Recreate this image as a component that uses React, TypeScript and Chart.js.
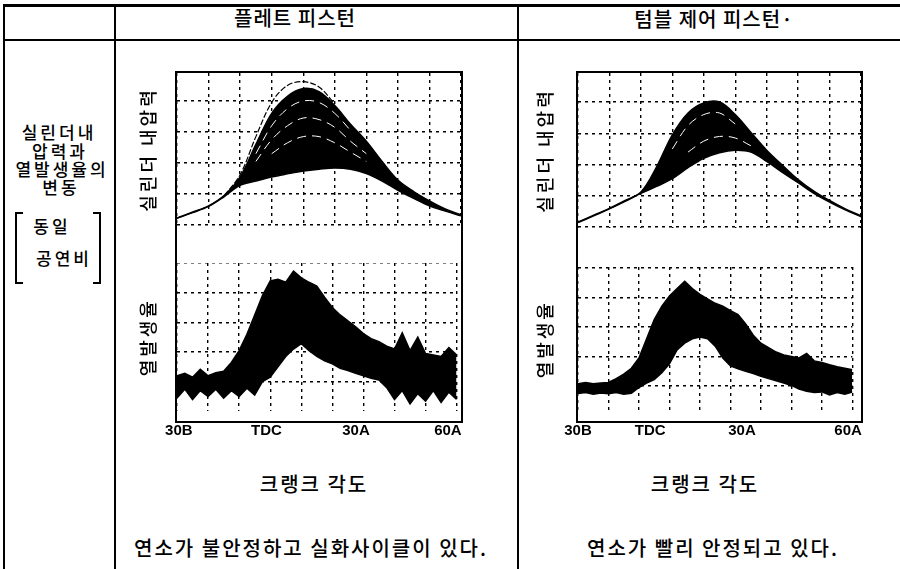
import React, { useEffect, useRef } from "react";
import { Chart, registerables } from "chart.js";

Chart.register(...registerables);

// ---------- data ----------
// crank angle axis: 30B (-30) .. 60A (+60), grid every 10 degrees
const gridAngles = [-30, -20, -10, 0, 10, 20, 30, 40, 50, 60];
const tickLabels = ["30B", "TDC", "30A", "60A"];
// where the labels sit under each panel in the picture (deg)
const leftLabelAngles = [-29.4, -1.2, 27.6, 57.2];
const rightLabelAngles = [-30, -6.3, 23.8, 58.6];

const pressureAngles = [-30, -25, -20, -15, -10, -5, 0, 5, 10, 15, 20, 25, 30, 35, 40, 45, 50, 55, 60];
const heatAngles = [
  -30, -27.5, -25, -22.5, -20, -17.5, -15, -12.5, -10, -7.5, -5, -2.5, 0, 2.5, 5, 7.5, 10, 12.5, 15,
  17.5, 20, 22.5, 25, 27.5, 30, 32.5, 35, 37.5, 40, 42.5, 45, 47.5, 50, 52.5, 55, 57.5, 60,
];

// flat piston: cylinder pressure envelope of all cycles
const flatPressureLow = [0.22, 0.4, 0.6, 0.92, 1.28, 1.42, 1.55, 1.65, 1.74, 1.8, 1.84, 1.8, 1.66, 1.42, 1.12, 0.86, 0.62, 0.45, 0.3];
const flatPressureHigh = [0.23, 0.42, 0.62, 0.96, 1.55, 2.6, 3.6, 4.15, 4.4, 4.3, 3.85, 3.25, 2.7, 2.05, 1.45, 1.08, 0.78, 0.52, 0.33];
const flatPressurePeakAngles = [-15, -10, -5, 0, 5, 10, 15, 20];
const flatPressurePeakCycle = [0.95, 1.62, 2.85, 3.95, 4.5, 4.62, 4.45, 3.9];
// visible gaps between individual cycles inside the band
const flatGapAAngles = [-5, 0, 5, 10, 15, 20, 25];
const flatGapA = [2.3, 3.2, 3.75, 4.0, 3.95, 3.6, 3.05];
const flatGapBAngles = [-5, 0, 5, 10, 15, 20, 25, 30];
const flatGapB = [2.05, 2.75, 3.2, 3.45, 3.4, 3.15, 2.7, 2.3];
const flatGapCAngles = [0, 5, 10, 15, 20, 25, 30];
const flatGapC = [2.3, 2.65, 2.85, 2.85, 2.65, 2.35, 2.05];

// flat piston: heat release rate envelope
const flatHeatHigh = [
  0.2, 0.28, 0.15, 0.42, 0.2, 0.3, 0.35, 0.65, 1.05, 1.6, 2.25, 2.9, 3.4, 3.45, 3.35, 3.73, 3.5, 3.35, 3.22,
  2.85, 2.5, 2.25, 2.05, 1.85, 1.62, 1.45, 1.35, 1.2, 1.1, 1.65, 1.05, 1.5, 0.95, 0.9, 0.85, 1.15, 0.9,
];
const flatHeatLow = [
  -0.55, -0.25, -0.6, -0.3, -0.5, -0.25, -0.55, -0.3, -0.5, -0.22, -0.45, 0.0, 0.15, 0.5, 0.85, 1.1, 1.28, 1.05, 0.85,
  0.7, 0.6, 0.45, 0.38, 0.28, 0.2, 0.12, 0.06, -0.2, -0.6, -0.3, -0.75, -0.4, -0.65, -0.3, -0.7, -0.35, -0.6,
];

// tumble control piston: cylinder pressure envelope
const tumblePressureLow = [0.14, 0.36, 0.58, 0.82, 1.08, 1.3, 1.55, 1.9, 2.2, 2.38, 2.46, 2.4, 2.1, 1.75, 1.42, 1.08, 0.8, 0.55, 0.33];
const tumblePressureHigh = [0.16, 0.38, 0.6, 0.85, 1.12, 1.93, 2.95, 3.65, 3.97, 4.0, 3.6, 3.03, 2.46, 1.98, 1.52, 1.15, 0.85, 0.58, 0.36];
const tumbleGapAAngles = [0, 5, 10, 15, 20];
const tumbleGapA = [2.5, 3.25, 3.6, 3.65, 3.3];
const tumbleGapBAngles = [5, 10, 15, 20, 25];
const tumbleGapB = [2.4, 2.75, 2.9, 2.85, 2.6];

// tumble control piston: heat release rate envelope
const tumbleHeatHigh = [
  0.08, 0.12, 0.08, 0.1, 0.12, 0.25, 0.4, 0.6, 0.95, 1.6, 2.25, 2.7, 3.05, 3.3, 3.55, 3.3, 3.1, 2.95, 2.8,
  2.7, 2.55, 2.42, 2.1, 1.72, 1.45, 1.3, 1.15, 1.05, 1.0, 0.95, 1.1, 0.85, 0.8, 0.72, 0.65, 0.6, 0.55,
];
const tumbleHeatLow = [
  -0.25, -0.22, -0.28, -0.24, -0.26, -0.22, -0.28, -0.25, -0.05, 0.1, 0.22, 0.45, 0.75, 1.22, 1.45, 1.6, 1.66, 1.6, 1.35,
  0.95, 0.68, 0.58, 0.5, 0.42, 0.33, 0.25, 0.18, 0.1, 0.02, -0.1, -0.18, -0.22, -0.2, -0.3, -0.22, -0.28, -0.2,
];

const pressureGridValues = [0, 1, 2, 3, 4];
const heatGridValues = [0, 1, 2, 3, 4];

// ---------- chart ----------
const KR = "'Noto Sans CJK KR', 'Noto Sans', sans-serif";

function pts(xs: number[], ys: number[]) {
  return xs.map((x, i) => ({ x, y: ys[i] }));
}

const spacingPlugin = {
  id: "titleSpacing",
  beforeDraw(chart: any) {
    chart.ctx.letterSpacing = "3px";
  },
  afterDatasetsDraw(chart: any) {
    chart.ctx.letterSpacing = "0px";
  },
};

type Extra = { xs: number[]; ys: number[]; gap: boolean };

type TraceProps = {
  left: number;
  top: number;
  width: number;
  height: number;
  yMin: number;
  yMax: number;
  yGrid: number[];
  title: string;
  titleGap: number;
  xs: number[];
  low: number[];
  high: number[];
  smooth: boolean;
  extras?: Extra[];
  labelAngles?: number[];
};

function TraceChart(p: TraceProps) {
  const ref = useRef<HTMLCanvasElement>(null);
  useEffect(() => {
    const canvas = ref.current;
    if (!canvas) return;
    const tension = p.smooth ? 0.35 : 0;
    const datasets: any[] = [
      {
        data: pts(p.xs, p.low),
        borderColor: "#000",
        borderWidth: 1.5,
        pointRadius: 0,
        fill: false,
        tension,
        order: 5,
      },
      {
        data: pts(p.xs, p.high),
        borderColor: "#000",
        borderWidth: 1.5,
        pointRadius: 0,
        fill: "-1",
        backgroundColor: "#000",
        tension,
        order: 5,
      },
    ];
    (p.extras || []).forEach((e) => {
      datasets.push({
        data: pts(e.xs, e.ys),
        borderColor: e.gap ? "#fff" : "#000",
        borderWidth: e.gap ? 1 : 1.2,
        borderDash: e.gap ? [9, 6] : [6, 2],
        pointRadius: 0,
        fill: false,
        tension,
        order: 0,
      });
    });
    const gridStyle = { color: "#000", lineWidth: 1.4, drawTicks: false };
    const scales: any = {
      x: {
        type: "linear",
        min: -30,
        max: 60,
        afterBuildTicks: (s: any) => {
          s.ticks = gridAngles.map((v) => ({ value: v }));
        },
        ticks: { display: false },
        grid: gridStyle,
        border: { display: false, dash: [3, 4] },
      },
      y: {
        type: "linear",
        min: p.yMin,
        max: p.yMax,
        afterBuildTicks: (s: any) => {
          s.ticks = p.yGrid.map((v) => ({ value: v }));
        },
        ticks: { display: false },
        grid: gridStyle,
        border: { display: false, dash: [3, 4] },
        title: {
          display: true,
          text: p.title,
          color: "#000",
          font: { family: KR, size: 18, weight: "500" },
          padding: { top: 0, bottom: p.titleGap },
        },
      },
    };
    if (p.labelAngles) {
      const la = p.labelAngles;
      scales.xl = {
        type: "linear",
        position: "bottom",
        min: -30,
        max: 60,
        afterBuildTicks: (s: any) => {
          s.ticks = la.map((v) => ({ value: v }));
        },
        ticks: {
          autoSkip: false,
          maxRotation: 0,
          minRotation: 0,
          padding: 10.8,
          color: "#000",
          font: { family: "'Liberation Sans Narrow', 'Liberation Sans', Arial, sans-serif", size: 15, weight: "bold" },
          callback: (_v: any, i: number) => tickLabels[i],
          z: 1,
        },
        grid: { display: false, drawTicks: false },
        border: { display: false },
      };
    }
    const chart = new Chart(canvas, {
      type: "line",
      data: { datasets },
      options: {
        animation: false,
        responsive: false,
        maintainAspectRatio: false,
        layout: { padding: { left: 0, top: 0, bottom: 0, right: 12 } },
        plugins: { legend: { display: false }, tooltip: { enabled: false } },
        scales,
      },
      plugins: [spacingPlugin],
    } as any);
    return () => chart.destroy();
  }, []);
  return (
    <canvas
      ref={ref}
      width={p.width}
      height={p.height}
      style={{ position: "absolute", left: p.left, top: p.top, width: p.width, height: p.height }}
    />
  );
}

// ---------- layout helpers ----------
function HLine({ x1, x2, y, w = 2 }: { x1: number; x2: number; y: number; w?: number }) {
  return <div style={{ position: "absolute", left: x1, top: y, width: x2 - x1, height: w, background: "#000" }} />;
}
function VLine({ y1, y2, x, w = 2 }: { y1: number; y2: number; x: number; w?: number }) {
  return <div style={{ position: "absolute", left: x, top: y1, width: w, height: y2 - y1, background: "#000" }} />;
}
function Label({ cx, cy, text, size = 20, spacing = 2 }: { cx: number; cy: number; text: string; size?: number; spacing?: number }) {
  return (
    <div
      style={{
        position: "absolute",
        left: cx,
        top: cy,
        transform: "translate(-50%, -50%)",
        whiteSpace: "nowrap",
        fontSize: size,
        fontWeight: 500,
        lineHeight: 1,
        letterSpacing: spacing,
        fontFamily: KR,
        color: "#000",
      }}
    >
      {text}
    </div>
  );
}

export default function App() {
  return (
    <div
      style={{
        position: "absolute",
        left: 0,
        top: 0,
        width: 900,
        height: 569,
        background: "#fff",
        overflow: "hidden",
      }}
    >
      {/* table frame */}
      <HLine x1={3} x2={900} y={4} w={3} />
      <HLine x1={3} x2={900} y={39} w={2} />
      <VLine x={3} y1={4} y2={569} />
      <VLine x={114} y1={4} y2={569} />
      <VLine x={517} y1={4} y2={569} />

      {/* headers */}
      <Label cx={295} cy={18} text="플레트 피스턴" size={20} spacing={1} />
      <Label cx={714} cy={19} text="텀블 제어 피스턴·" size={20} spacing={1} />

      {/* row heading */}
      <Label cx={59} cy={131} text="실린더내" size={17} spacing={3} />
      <Label cx={60} cy={149.5} text="압력과" size={17} spacing={3} />
      <Label cx={62} cy={168} text="열발생율의" size={17} spacing={3} />
      <Label cx={61} cy={186} text="변동" size={17} spacing={3} />
      <Label cx={52} cy={225} text="동일" size={17} spacing={3} />
      <Label cx={64} cy={257} text="공연비" size={17} spacing={3} />
      <div style={{ position: "absolute", left: 15, top: 212, width: 8, height: 72, borderLeft: "2px solid #000", borderTop: "2px solid #000", borderBottom: "2px solid #000", boxSizing: "border-box" }} />
      <div style={{ position: "absolute", left: 93, top: 212, width: 8, height: 72, borderRight: "2px solid #000", borderTop: "2px solid #000", borderBottom: "2px solid #000", boxSizing: "border-box" }} />

      {/* left panel: flat piston */}
      <TraceChart
        left={137}
        top={73}
        width={336}
        height={153}
        yMin={-0.03}
        yMax={4.9}
        yGrid={pressureGridValues}
        title="실린더 내압력"
        titleGap={18.4}
        xs={pressureAngles}
        low={flatPressureLow}
        high={flatPressureHigh}
        smooth={true}
        extras={[
          { xs: flatPressurePeakAngles, ys: flatPressurePeakCycle, gap: false },
          { xs: flatGapAAngles, ys: flatGapA, gap: true },
          { xs: flatGapBAngles, ys: flatGapB, gap: true },
          { xs: flatGapCAngles, ys: flatGapC, gap: true },
        ]}
      />
      <TraceChart
        left={137}
        top={263}
        width={336}
        height={188}
        yMin={-1}
        yMax={4}
        yGrid={heatGridValues}
        title="열발생율"
        titleGap={18.4}
        xs={heatAngles}
        low={flatHeatLow}
        high={flatHeatHigh}
        smooth={false}
        labelAngles={leftLabelAngles}
      />
      <div style={{ position: "absolute", left: 175, top: 71, width: 288, height: 352, border: "2px solid #000", boxSizing: "border-box" }} />

      {/* right panel: tumble control piston */}
      <TraceChart
        left={534}
        top={73}
        width={339}
        height={155}
        yMin={-0.03}
        yMax={4.93}
        yGrid={pressureGridValues}
        title="실린더 내압력"
        titleGap={22.4}
        xs={pressureAngles}
        low={tumblePressureLow}
        high={tumblePressureHigh}
        smooth={true}
        extras={[
          { xs: tumbleGapAAngles, ys: tumbleGapA, gap: true },
          { xs: tumbleGapBAngles, ys: tumbleGapB, gap: true },
        ]}
      />
      <TraceChart
        left={534}
        top={267}
        width={339}
        height={184}
        yMin={-0.86}
        yMax={4.03}
        yGrid={heatGridValues}
        title="열발생율"
        titleGap={22.4}
        xs={heatAngles}
        low={tumbleHeatLow}
        high={tumbleHeatHigh}
        smooth={false}
        labelAngles={rightLabelAngles}
      />
      <div style={{ position: "absolute", left: 576, top: 71, width: 287, height: 352, border: "2px solid #000", boxSizing: "border-box" }} />

      {/* axis captions and remarks */}
      <Label cx={314} cy={484} text="크랭크 각도" size={20} spacing={2} />
      <Label cx={705} cy={484} text="크랭크 각도" size={20} spacing={2} />
      <Label cx={311} cy={548} text="연소가 불안정하고 실화사이클이 있다." size={20} spacing={2} />
      <Label cx={713} cy={548} text="연소가 빨리 안정되고 있다." size={20} spacing={2} />
    </div>
  );
}
